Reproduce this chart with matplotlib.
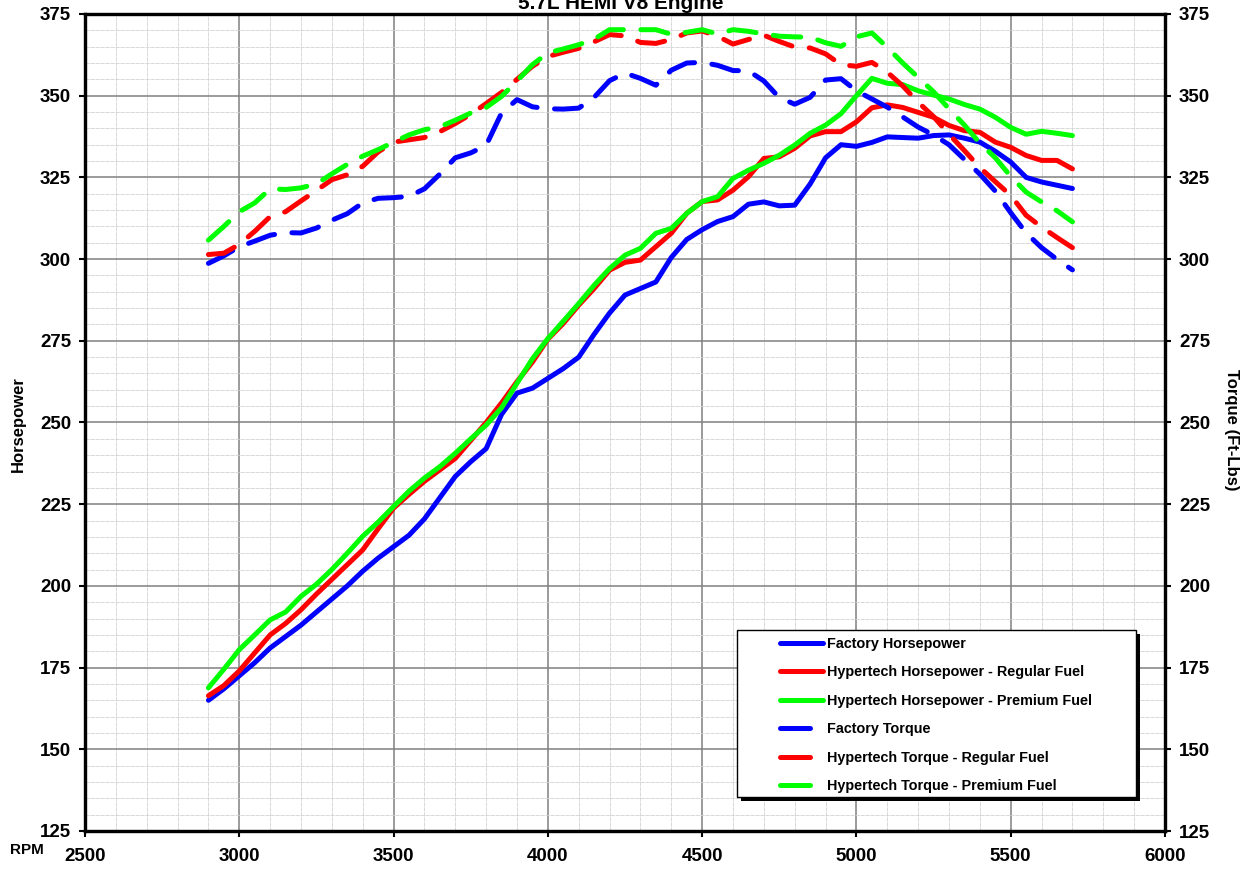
import matplotlib
matplotlib.use("Agg")
import matplotlib.pyplot as plt
from matplotlib.lines import Line2D
from matplotlib.patches import Rectangle
from matplotlib.ticker import MultipleLocator

plt.rcParams['font.family'] = ['Liberation Sans', 'DejaVu Sans']
plt.rcParams['font.weight'] = 'bold'

# engine speed, every 50 rpm
rpm = list(range(2900, 5701, 50))

factory_hp = [165.0, 168.5, 172.5, 176.5, 181.0, 184.5, 188.0, 192.0, 196.0, 200.0,
              204.5, 208.5, 212.0, 215.5, 220.5, 227.0, 233.5, 238.0, 242.0, 252.5,
              259.0, 260.5, 263.5, 266.5, 270.0, 277.0, 283.5, 289.0, 291.0, 293.0,
              300.5, 306.0, 309.0, 311.5, 313.0, 316.8, 317.5, 316.3, 316.5, 323.0,
              331.0, 335.0, 334.5, 335.7, 337.4, 337.2, 337.0, 337.8, 338.0, 337.0,
              335.8, 333.0, 329.7, 325.0, 323.6, 322.6, 321.6]

regular_hp = [166.4, 169.5, 174.0, 179.5, 185.0, 188.5, 192.7, 197.5, 202.0, 206.5,
              211.0, 217.5, 223.8, 228.0, 232.0, 235.5, 239.0, 244.5, 250.0, 256.0,
              262.5, 268.5, 275.5, 280.3, 285.9, 291.0, 296.6, 299.0, 299.7, 303.8,
              307.9, 314.0, 317.6, 318.1, 321.1, 325.2, 330.8, 331.3, 333.9, 337.7,
              339.0, 339.0, 342.0, 346.3, 347.2, 346.4, 344.9, 343.4, 340.9, 339.3,
              338.8, 335.8, 334.2, 331.7, 330.2, 330.2, 327.6]

premium_hp = [168.8, 174.5, 180.5, 185.0, 189.6, 192.0, 196.8, 200.5, 205.0, 210.0,
              215.2, 219.5, 224.3, 229.0, 233.0, 236.5, 240.6, 245.0, 249.2, 254.5,
              262.0, 269.5, 275.7, 281.0, 286.4, 292.0, 297.1, 301.2, 303.3, 307.9,
              309.4, 314.0, 317.6, 319.1, 324.7, 327.2, 329.3, 331.8, 334.9, 338.5,
              341.0, 344.5, 350.0, 355.3, 353.8, 353.4, 351.5, 350.2, 349.0, 347.3,
              345.9, 343.4, 340.3, 338.2, 339.1, 338.5, 337.8]

factory_tq = [298.7, 301.0, 303.8, 305.5, 307.3, 308.1, 308.0, 309.5, 311.9, 313.9,
              317.2, 318.6, 318.8, 319.2, 321.5, 326.0, 331.0, 332.5, 334.8, 344.7,
              348.8, 346.6, 346.0, 345.9, 346.2, 349.5, 354.6, 356.9, 355.3, 353.2,
              357.8, 360.0, 360.2, 359.3, 357.7, 357.6, 354.5, 349.4, 347.4, 349.5,
              354.8, 355.2, 351.5, 349.0, 346.5, 343.5, 340.4, 338.0, 335.0, 330.5,
              326.0, 320.8, 314.2, 308.0, 303.5, 299.9, 296.7]

regular_tq = [301.4, 301.8, 304.5, 308.5, 313.0, 314.5, 317.8, 321.0, 324.3, 325.8,
              328.4, 332.8, 335.8, 336.5, 337.2, 339.0, 341.5, 344.3, 347.6, 351.0,
              355.0, 359.0, 362.0, 363.3, 364.5, 366.5, 368.7, 368.3, 366.3, 366.0,
              367.2, 369.2, 369.8, 368.2, 365.8, 367.2, 368.5, 366.6, 364.9, 364.6,
              362.8, 359.5, 359.0, 360.2, 357.2, 353.0, 348.0, 343.6, 338.2, 333.2,
              328.0, 323.7, 319.5, 313.4, 309.8, 306.6, 303.5]

premium_tq = [305.8, 310.0, 314.5, 317.2, 321.5, 321.3, 321.8, 323.0, 326.1, 329.0,
              331.5, 333.5, 335.8, 338.0, 339.6, 340.5, 342.5, 344.7, 346.4, 349.8,
              354.5, 359.5, 363.1, 364.3, 365.6, 367.3, 370.2, 370.2, 370.2, 370.2,
              368.8, 369.4, 370.2, 368.9, 370.2, 369.7, 368.9, 368.2, 368.0, 367.9,
              366.2, 365.1, 368.0, 369.2, 364.8, 360.0, 355.6, 351.2, 346.0, 341.0,
              335.5, 331.0, 325.3, 320.5, 317.5, 314.8, 311.4]

hp_labels = ["Factory Horsepower",
             "Hypertech Horsepower - Regular Fuel",
             "Hypertech Horsepower - Premium Fuel"]
tq_labels = ["Factory Torque",
             "Hypertech Torque - Regular Fuel",
             "Hypertech Torque - Premium Fuel"]
colors = ["#0000ff", "#ff0000", "#00ff00"]

W, H = 1249, 869
fig = plt.figure(figsize=(W / 100, H / 100), dpi=100)
ax = fig.add_axes([85 / W, 1 - 831 / H, 1080 / W, 817 / H])

ax.set_xlim(2500, 6000)
ax.set_ylim(125, 375)
ax.xaxis.set_major_locator(MultipleLocator(500))
ax.xaxis.set_minor_locator(MultipleLocator(100))
ax.yaxis.set_major_locator(MultipleLocator(25))
ax.yaxis.set_minor_locator(MultipleLocator(5))
ax.grid(which='major', color='#808080', lw=1.1, zorder=0)
ax.grid(which='minor', color='#d2d2d2', lw=0.6, ls=(0, (5, 1)), zorder=0)
ax.set_axisbelow(True)
for sp in ax.spines.values():
    sp.set_linewidth(2.3)
    sp.set_color('black')
ax.tick_params(which='minor', length=0)
ax.tick_params(axis='both', which='major', length=4, width=1.5, labelsize=13.5)
ax.tick_params(axis='x', pad=8)
ax.tick_params(axis='y', pad=6)

ax2 = ax.twinx()
ax2.set_ylim(125, 375)
ax2.yaxis.set_major_locator(MultipleLocator(25))
ax2.tick_params(axis='y', length=4, width=1.5, labelsize=13.5, pad=6)
for sp in ax2.spines.values():
    sp.set_linewidth(2.3)

# horsepower (solid)
for vals, c in zip([factory_hp, regular_hp, premium_hp], colors):
    ax.plot(rpm, vals, color=c, lw=3.6, solid_capstyle='round', zorder=3)

# torque (dashed)
for vals, c in zip([factory_tq, regular_tq, premium_tq], colors):
    ax.plot(rpm, vals, color=c, lw=3.6, dashes=(5.5, 3.5),
            dash_capstyle='round', zorder=3)

# legend box with black drop shadow
ax.add_patch(Rectangle((741 / W, 1 - 801 / H), 399 / W, 167 / H, transform=fig.transFigure,
                       facecolor='black', edgecolor='none', zorder=5, clip_on=False))
ax.add_patch(Rectangle((737 / W, 1 - 797 / H), 399 / W, 167 / H, transform=fig.transFigure,
                       facecolor='white', edgecolor='black', lw=1, zorder=5, clip_on=False))

handles = [Line2D([], [], color=c, lw=3.6, solid_capstyle='round') for c in colors]
handles += [Line2D([], [], color=c, lw=3.6, dashes=(6, 10), dash_capstyle='round')
            for c in colors]
leg = ax.legend(handles, hp_labels + tq_labels, loc='upper left',
                bbox_to_anchor=(780 / W, 1 - 637 / H), bbox_transform=fig.transFigure,
                frameon=False, fontsize=10.4, borderpad=0, borderaxespad=0,
                handlelength=3.0, handletextpad=0.25, labelspacing=1.0)
leg.set_zorder(6)
for t in leg.get_texts():
    t.set_fontweight('bold')

fig.text(621 / W, 1 - 9 / H, "5.7L HEMI V8 Engine", ha='center', va='baseline',
         fontsize=15, fontweight='bold')
fig.text(18 / W, 1 - 424 / H, "Horsepower", rotation=90, ha='center', va='center',
         fontsize=12, fontweight='bold')
fig.text(1231 / W, 1 - 430 / H, "Torque (Ft-Lbs)", rotation=270, ha='center', va='center',
         fontsize=12, fontweight='bold')
fig.text(10 / W, 1 - 850 / H, "RPM", ha='left', va='center', fontsize=11, fontweight='bold')

fig.savefig("out.png", dpi=100)
